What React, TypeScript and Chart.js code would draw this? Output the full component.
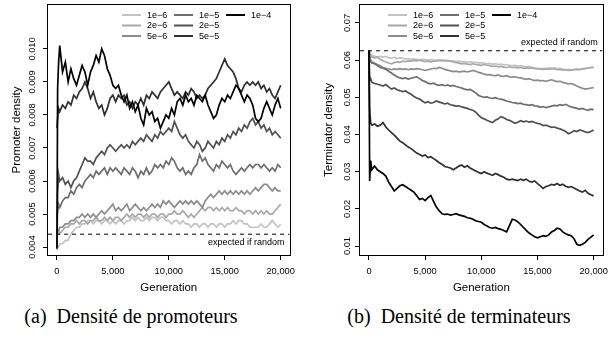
import { useEffect, useRef } from "react";
import { Chart, registerables } from "chart.js";

Chart.register(...registerables);

const GENERATIONS = [0, 60, 150, 250, 500, 750,
  1000, 1250, 1500, 1750, 2000, 2250, 2500, 2750, 3000, 3250, 3500, 3750, 4000, 4250, 4500, 4750,
  5000, 5250, 5500, 5750, 6000, 6250, 6500, 6750, 7000, 7250, 7500, 7750, 8000, 8250, 8500, 8750,
  9000, 9250, 9500, 9750, 10000, 10250, 10500, 10750, 11000, 11250, 11500, 11750, 12000, 12250, 12500, 12750,
  13000, 13250, 13500, 13750, 14000, 14250, 14500, 14750, 15000, 15250, 15500, 15750, 16000, 16250, 16500, 16750,
  17000, 17250, 17500, 17750, 18000, 18250, 18500, 18750, 19000, 19250, 19500, 19750, 20000];

const RATE_LABELS = ["1e−6", "2e−6", "5e−6", "1e−5", "2e−5", "5e−5", "1e−4"];
const RATE_COLORS = ["#c3c3c3", "#a8a8a8", "#8c8c8c", "#6e6e6e", "#505050", "#2f2f2f", "#000000"];

const X_TICKS = [0, 5000, 10000, 15000, 20000];
const PROMOTER_TICKS = [0.004, 0.005, 0.006, 0.007, 0.008, 0.009, 0.01];
const TERMINATOR_TICKS = [0.01, 0.02, 0.03, 0.04, 0.05, 0.06, 0.07];

// Promoter density, in units of 0.001
const PROMOTER_UNIT = 0.001;
const PROMOTER_1E6 = [3.9, 4.0, 4.0, 4.1, 4.1, 4.2,
  4.2, 4.4, 4.5, 4.6, 4.6, 4.7, 4.7, 4.8, 4.8, 4.7, 4.8, 4.8, 4.7, 4.8, 4.8, 4.7,
  4.8, 4.7, 4.8, 4.8, 4.7, 4.8, 4.8, 4.9, 4.8, 4.9, 4.8, 4.8, 4.9, 4.8, 4.9, 4.9,
  4.8, 4.9, 4.9, 4.8, 4.8, 4.7, 4.8, 4.8, 4.7, 4.8, 4.7, 4.7, 4.6, 4.7, 4.7, 4.6,
  4.7, 4.7, 4.6, 4.7, 4.7, 4.6, 4.7, 4.7, 4.6, 4.7, 4.7, 4.8, 4.7, 4.8, 4.8, 4.7,
  4.7, 4.6, 4.6, 4.6, 4.6, 4.7, 4.6, 4.6, 4.7, 4.8, 4.7, 4.6, 4.7];
const PROMOTER_2E6 = [4.3, 4.4, 4.5, 4.4, 4.5, 4.6,
  4.6, 4.7, 4.7, 4.8, 4.7, 4.8, 4.8, 4.7, 4.8, 4.8, 4.9, 4.8, 4.8, 4.9, 4.8, 4.9,
  4.8, 4.9, 4.9, 4.8, 4.9, 5.0, 4.9, 5.0, 4.9, 5.0, 5.0, 4.9, 5.0, 4.9, 5.0, 5.0,
  4.9, 5.0, 5.0, 4.9, 5.0, 5.0, 5.1, 5.0, 5.0, 5.1, 5.0, 4.9, 5.0, 4.9, 5.0, 5.1,
  5.2, 5.1, 5.2, 5.2, 5.1, 5.2, 5.1, 5.2, 5.1, 5.2, 5.1, 5.1, 5.2, 5.1, 5.1, 5.0,
  5.1, 5.1, 5.0, 5.1, 5.0, 5.1, 5.0, 5.1, 5.0, 5.0, 5.1, 5.2, 5.3];
const PROMOTER_5E6 = [4.4, 4.5, 4.5, 4.6, 4.6, 4.7,
  4.7, 4.8, 4.8, 4.9, 4.9, 5.0, 4.9, 5.0, 4.9, 5.0, 4.9, 5.0, 5.1, 5.0, 5.1, 5.2,
  5.3, 5.1, 5.2, 5.1, 5.2, 5.3, 5.1, 5.2, 5.3, 5.2, 5.1, 5.2, 5.1, 5.2, 5.3, 5.2,
  5.3, 5.2, 5.4, 5.3, 5.4, 5.3, 5.2, 5.3, 5.4, 5.3, 5.4, 5.3, 5.4, 5.3, 5.4, 5.3,
  5.2, 5.4, 5.5, 5.6, 5.5, 5.6, 5.7, 5.6, 5.7, 5.6, 5.7, 5.6, 5.7, 5.6, 5.7, 5.6,
  5.7, 5.6, 5.7, 5.8, 5.7, 5.8, 5.9, 5.9, 5.8, 5.7, 5.8, 5.7, 5.7];
const PROMOTER_1E5 = [4.9, 5.1, 5.3, 5.2, 5.4, 5.5,
  5.5, 5.7, 5.6, 5.8, 5.9, 5.8, 6.0, 6.1, 6.2, 6.1, 6.3, 6.2, 6.3, 6.4, 6.2, 6.4,
  6.3, 6.4, 6.3, 6.2, 6.4, 6.3, 6.2, 6.4, 6.3, 6.1, 6.3, 6.2, 6.4, 6.2, 6.3, 6.5,
  6.4, 6.5, 6.4, 6.6, 6.5, 6.7, 6.6, 6.4, 6.3, 6.4, 6.2, 6.3, 6.2, 6.4, 6.5, 6.8,
  6.6, 6.7, 6.5, 6.4, 6.3, 6.5, 6.4, 6.6, 6.5, 6.4, 6.5, 6.3, 6.2, 6.3, 6.4, 6.3,
  6.4, 6.5, 6.4, 6.5, 6.5, 6.4, 6.5, 6.4, 6.3, 6.4, 6.3, 6.5, 6.4];
const PROMOTER_2E5 = [4.0, 5.6, 6.2, 6.0, 6.1, 5.9,
  6.0, 5.8, 6.0, 6.1, 6.3, 6.5, 6.7, 6.6, 6.6, 6.5, 6.7, 6.8, 6.9, 6.8, 7.0, 7.1,
  7.0, 6.9, 7.0, 7.1, 7.0, 7.1, 7.0, 7.2, 7.1, 7.2, 7.3, 7.2, 7.4, 7.3, 7.2, 7.4,
  7.3, 7.5, 7.4, 7.5, 7.6, 7.5, 7.8, 7.6, 7.4, 7.3, 7.4, 7.2, 7.1, 7.0, 7.2, 7.1,
  6.9, 7.0, 7.2, 7.1, 7.0, 7.2, 7.1, 7.3, 7.2, 7.4, 7.3, 7.5, 7.4, 7.6, 7.5, 7.7,
  7.6, 7.8, 7.9, 7.7, 7.8, 7.6, 7.7, 7.5, 7.6, 7.4, 7.5, 7.4, 7.3];
const PROMOTER_5E5 = [7.6, 7.9, 8.2, 8.1, 8.3, 8.2,
  8.4, 8.3, 8.6, 8.5, 8.7, 8.8, 9.0, 8.8, 8.5, 8.7, 8.4, 8.2, 8.3, 8.0, 8.2, 8.5,
  8.6, 8.4, 8.6, 8.5, 8.6, 8.3, 8.4, 8.2, 8.4, 8.3, 8.5, 8.3, 8.6, 8.5, 8.7, 8.6,
  8.5, 8.7, 8.8, 8.9, 9.0, 8.8, 8.6, 8.7, 8.6, 8.5, 8.7, 8.6, 8.8, 8.7, 8.5, 8.6,
  8.5, 8.6, 8.8, 8.9, 9.0, 9.1, 9.3, 9.5, 9.7, 9.5, 9.4, 9.3, 9.1, 8.8, 8.7, 8.9,
  9.0, 8.9, 9.0, 8.9, 9.0, 8.8, 8.9, 8.7, 8.8, 8.6, 8.5, 8.7, 8.9];
const PROMOTER_1E4 = [3.95, 8.8, 9.6, 10.1, 9.3, 9.6,
  9.0, 9.4, 9.1, 8.9, 9.2, 9.5, 9.3, 8.9, 9.3, 9.5, 9.8, 9.6, 10.0, 9.8, 9.4, 9.2,
  8.9, 8.8, 8.9, 8.6, 8.4, 8.6, 8.2, 8.4, 8.1, 8.3, 7.9, 7.7, 8.2, 8.0, 8.1, 7.8,
  7.9, 7.6, 7.8, 8.0, 7.9, 8.2, 8.0, 8.4, 8.5, 8.3, 8.6, 8.4, 8.5, 8.3, 8.6, 8.5,
  8.4, 8.6, 8.3, 8.1, 7.9, 8.0, 8.3, 8.5, 8.4, 8.6, 8.5, 8.7, 8.9, 8.8, 8.6, 8.4,
  8.6, 8.5, 8.3, 7.9, 7.8, 7.9, 8.2, 8.4, 8.2, 8.0, 8.3, 8.5, 8.2];

// Terminator density, in units of 0.01
const TERMINATOR_UNIT = 0.01;
const TERMINATOR_1E6 = [6.25, 6.22, 6.18, 6.12, 6.1, 6.08,
  6.1, 6.08, 6.1, 6.06, 6.05, 6.07, 6.04, 6.06, 6.05, 6.03, 6.04, 6.02, 6.03, 6.02, 6.0, 6.02,
  6.01, 6.0, 6.01, 5.99, 6.0, 5.99, 5.98, 5.99, 5.98, 5.97, 5.98, 5.96, 5.97, 5.95, 5.96, 5.94,
  5.95, 5.93, 5.94, 5.92, 5.93, 5.91, 5.9, 5.91, 5.89, 5.9, 5.88, 5.89, 5.87, 5.88, 5.86, 5.85,
  5.86, 5.84, 5.85, 5.83, 5.82, 5.83, 5.8, 5.79, 5.78, 5.76, 5.78, 5.77, 5.79, 5.78, 5.79, 5.77,
  5.78, 5.76, 5.74, 5.75, 5.74, 5.75, 5.76, 5.75, 5.77, 5.78, 5.79, 5.8, 5.79];
const TERMINATOR_2E6 = [6.25, 6.2, 6.12, 6.08, 6.05, 6.08,
  6.02, 5.98, 5.95, 5.92, 5.9, 5.93, 5.95, 5.94, 5.97, 5.96, 5.98, 5.97, 5.99, 5.98, 6.0, 5.98,
  5.96, 5.97, 5.95, 5.97, 5.98, 5.99, 6.0, 5.98, 5.99, 5.97, 5.95, 5.93, 5.92, 5.9, 5.91, 5.89,
  5.88, 5.9, 5.88, 5.87, 5.86, 5.88, 5.86, 5.85, 5.83, 5.84, 5.82, 5.83, 5.81, 5.8, 5.82, 5.8,
  5.81, 5.79, 5.8, 5.78, 5.79, 5.78, 5.79, 5.77, 5.76, 5.77, 5.75, 5.76, 5.75, 5.77, 5.76, 5.74,
  5.75, 5.73, 5.74, 5.72, 5.73, 5.74, 5.75, 5.74, 5.76, 5.77, 5.78, 5.8, 5.81];
const TERMINATOR_5E6 = [6.25, 6.1, 6.0, 5.95, 5.92, 5.88,
  5.85, 5.8, 5.78, 5.76, 5.74, 5.76, 5.75, 5.77, 5.75, 5.76, 5.74, 5.76, 5.75, 5.77, 5.76, 5.74,
  5.72, 5.74, 5.76, 5.78, 5.77, 5.8, 5.78, 5.75, 5.73, 5.71, 5.69, 5.7, 5.68, 5.69, 5.7, 5.68,
  5.7, 5.72, 5.7, 5.67, 5.65, 5.62, 5.6, 5.61, 5.59, 5.58, 5.6, 5.57, 5.56, 5.58, 5.55, 5.54,
  5.55, 5.53, 5.52, 5.5, 5.48, 5.5, 5.47, 5.45, 5.46, 5.44, 5.45, 5.43, 5.45, 5.47, 5.44, 5.42,
  5.43, 5.4, 5.38, 5.36, 5.37, 5.34, 5.3, 5.27, 5.24, 5.22, 5.23, 5.25, 5.26];
const TERMINATOR_1E5 = [6.25, 6.05, 5.95, 5.92, 5.9, 5.85,
  5.8, 5.78, 5.75, 5.7, 5.65, 5.6, 5.55, 5.52, 5.5, 5.52, 5.49, 5.51, 5.53, 5.55, 5.5, 5.45,
  5.42, 5.38, 5.36, 5.38, 5.34, 5.32, 5.34, 5.31, 5.33, 5.3, 5.32, 5.29, 5.27, 5.25, 5.22, 5.2,
  5.21, 5.17, 5.12, 5.05, 5.02, 5.0, 5.01, 4.98, 4.97, 4.99, 4.96, 4.95, 4.93, 4.9, 4.88, 4.86,
  4.85, 4.83, 4.84, 4.81, 4.8, 4.78, 4.8, 4.77, 4.76, 4.73, 4.75, 4.72, 4.74, 4.76, 4.78, 4.77,
  4.8, 4.78, 4.81, 4.77, 4.74, 4.72, 4.7, 4.68, 4.7, 4.67, 4.65, 4.68, 4.67];
const TERMINATOR_2E5 = [6.25, 5.45, 5.5, 5.4, 5.37, 5.35,
  5.33, 5.3, 5.34, 5.28, 5.22, 5.25, 5.2, 5.18, 5.15, 5.17, 5.12, 5.08, 5.02, 4.98, 4.95, 4.9,
  4.85, 4.88, 4.84, 4.86, 4.9, 4.87, 4.85, 4.82, 4.84, 4.8, 4.78, 4.76, 4.77, 4.74, 4.72, 4.7,
  4.67, 4.65, 4.6, 4.52, 4.45, 4.42, 4.38, 4.35, 4.32, 4.38, 4.42, 4.48, 4.45, 4.4, 4.38, 4.34,
  4.3, 4.33, 4.37, 4.34, 4.36, 4.33, 4.35, 4.32, 4.3, 4.28, 4.24, 4.25, 4.22, 4.19, 4.2, 4.17,
  4.15, 4.12, 4.08, 4.02, 4.05, 4.1, 4.08, 4.12, 4.1, 4.07, 4.05, 4.08, 4.12];
const TERMINATOR_5E5 = [6.25, 4.7, 4.3, 4.25, 4.28, 4.22,
  4.25, 4.32, 4.2, 4.12, 4.05, 3.98, 3.9, 3.82, 3.78, 3.72, 3.66, 3.62, 3.56, 3.5, 3.46, 3.42,
  3.45, 3.38, 3.4, 3.35, 3.3, 3.24, 3.2, 3.14, 3.12, 3.1, 3.05, 3.1, 3.15, 3.18, 3.12, 3.16,
  3.1, 3.06, 3.02, 2.98, 2.95, 3.0, 2.96, 2.93, 2.9, 2.95, 2.92, 2.88, 2.85, 2.8, 2.78, 2.8,
  2.78, 2.76, 2.8, 2.77, 2.8, 2.74, 2.72, 2.75, 2.68, 2.62, 2.55, 2.6, 2.62, 2.66, 2.64, 2.68,
  2.63, 2.66, 2.61, 2.58, 2.6, 2.56, 2.52, 2.48, 2.45, 2.5, 2.42, 2.38, 2.35];
const TERMINATOR_1E4 = [6.25, 2.75, 3.3, 3.05, 3.15, 3.05,
  3.0, 2.95, 2.88, 2.72, 2.6, 2.48, 2.55, 2.62, 2.65, 2.6, 2.55, 2.5, 2.45, 2.35, 2.25, 2.28,
  2.22, 2.3, 2.36, 2.2, 2.05, 1.95, 1.87, 1.85, 1.86, 1.83, 1.85, 1.87, 1.84, 1.82, 1.8, 1.76,
  1.75, 1.72, 1.68, 1.66, 1.64, 1.58, 1.54, 1.5, 1.48, 1.5, 1.47, 1.45, 1.42, 1.38, 1.55, 1.72,
  1.7, 1.65, 1.58, 1.5, 1.42, 1.35, 1.3, 1.25, 1.22, 1.25, 1.28, 1.26, 1.3, 1.38, 1.42, 1.48,
  1.46, 1.38, 1.33, 1.3, 1.28, 1.2, 1.05, 1.02, 1.05, 1.1, 1.18, 1.24, 1.3];

const EXPECTED_PROMOTER = 0.00439;
const EXPECTED_TERMINATOR = 0.0625;

const X_MIN = -800;
const X_MAX = 20800;

const SANS = '"Liberation Sans", Arial, Helvetica, sans-serif';

type PanelProps = {
  left: number;
  width: number;
  series: number[][];
  unit: number;
  yMin: number;
  yMax: number;
  yTicks: number[];
  yDecimals: number;
  yTitle: string;
  expected: number;
  expectedAbove: boolean;
  legendCols: number[];
  legendRows: number[];
};

function formatThousands(v: number): string {
  const s = String(Math.round(v));
  return s.replace(/\B(?=(\d{3})+(?!\d))/g, ",");
}

function Panel(props: PanelProps) {
  const ref = useRef<HTMLCanvasElement | null>(null);
  useEffect(() => {
    const canvas = ref.current;
    if (!canvas) return;
    const { series, unit } = props;
    const datasets: any[] = [];
    datasets.push({
      label: "expected if random",
      data: [{ x: X_MIN, y: props.expected }, { x: X_MAX, y: props.expected }],
      borderColor: "#000",
      borderWidth: 1,
      borderDash: [4, 4],
      pointRadius: 0,
    });
    for (let i = series.length - 1; i >= 0; i--) {
      datasets.push({
        label: RATE_LABELS[i],
        data: GENERATIONS.map((g, j) => ({ x: g, y: series[i][j] * unit })),
        borderColor: RATE_COLORS[i],
        borderWidth: 1.7,
        pointRadius: 0,
        tension: 0,
      });
    }

    const decor = {
      id: "rdecor",
      afterDraw(chart: any) {
        const ctx = chart.ctx;
        const a = chart.chartArea;
        ctx.save();
        // frame
        ctx.strokeStyle = "#000";
        ctx.lineWidth = 1;
        const l = Math.round(a.left) - 0.5;
        const t = Math.round(a.top) - 0.5;
        const r = Math.round(a.right) + 0.5;
        const b = Math.round(a.bottom) + 0.5;
        ctx.strokeRect(l, t, r - l, b - t);
        // legend
        ctx.font = `9px ${SANS}`;
        ctx.textBaseline = "middle";
        ctx.textAlign = "left";
        for (let i = 0; i < RATE_LABELS.length; i++) {
          const col = Math.floor(i / 3);
          const row = i % 3;
          const x = a.left + props.legendCols[col];
          const y = a.top + props.legendRows[row];
          ctx.strokeStyle = RATE_COLORS[i];
          ctx.lineWidth = 2;
          ctx.beginPath();
          ctx.moveTo(x, y);
          ctx.lineTo(x + 19, y);
          ctx.stroke();
          ctx.fillStyle = "#000";
          ctx.fillText(RATE_LABELS[i], x + 25, y + 0.5);
        }
        // expected label
        const ys = chart.scales.y;
        const py = ys.getPixelForValue(props.expected);
        ctx.textAlign = "right";
        ctx.fillStyle = "#000";
        ctx.font = `9px ${SANS}`;
        ctx.fillText("expected if random", a.right - 5, props.expectedAbove ? py - 8 : py + 8.5);
        ctx.restore();
      },
    };

    const tickFont = { family: SANS, size: 9.3 };
    const titleFont = { family: SANS, size: 11.5 };
    const chart = new Chart(canvas, {
      type: "line",
      data: { datasets },
      options: {
        animation: false,
        responsive: false,
        maintainAspectRatio: false,
        layout: { padding: { top: 5, right: 3, left: 0, bottom: 0 } },
        plugins: { legend: { display: false }, tooltip: { enabled: false } },
        scales: {
          x: {
            type: "linear",
            min: X_MIN,
            max: X_MAX,
            afterBuildTicks: (s: any) => { s.ticks = X_TICKS.map((value) => ({ value })); },
            ticks: {
              minRotation: 0,
              maxRotation: 0,
              autoSkip: false,
              padding: 6,
              color: "#000",
              font: tickFont,
              callback: (v: any) => formatThousands(Number(v)),
            },
            grid: { display: true, drawOnChartArea: false, drawTicks: true, tickLength: 5, color: "#000", lineWidth: 1 },
            border: { display: false },
            title: { display: true, text: "Generation", color: "#000", font: titleFont, padding: { top: 0, bottom: 5 } },
            afterFit: (s: any) => { s.height = 45; },
          },
          y: {
            type: "linear",
            min: props.yMin,
            max: props.yMax,
            afterBuildTicks: (s: any) => { s.ticks = props.yTicks.map((value) => ({ value })); },
            ticks: {
              autoSkip: false,
              minRotation: 90,
              maxRotation: 90,
              crossAlign: "center",
              padding: -1,
              color: "#000",
              font: tickFont,
              callback: (v: any) => Number(v).toFixed(props.yDecimals),
            },
            grid: { display: true, drawOnChartArea: false, drawTicks: true, tickLength: 5, color: "#000", lineWidth: 1 },
            border: { display: false },
            title: { display: true, text: props.yTitle, color: "#000", font: titleFont, padding: { top: 10, bottom: 0 } },
            afterFit: (s: any) => { s.width = 48; },
          },
        },
      } as any,
      plugins: [decor],
    });
    return () => chart.destroy();
  }, []);
  return (
    <canvas
      ref={ref}
      width={props.width}
      height={300}
      style={{ position: "absolute", left: props.left, top: 0, width: props.width, height: 300 }}
    />
  );
}

export default function App() {
  const captionStyle: any = {
    position: "absolute",
    top: 305,
    font: '20px "Liberation Serif", "Times New Roman", serif',
    lineHeight: "22px",
    textAlign: "center",
    whiteSpace: "pre",
    color: "#000",
  };
  return (
    <div style={{ position: "fixed", left: 0, top: 0, width: 614, height: 339, background: "#fff", overflow: "hidden" }}>
      <Panel
        left={0}
        width={301}
        series={[PROMOTER_1E6, PROMOTER_2E6, PROMOTER_5E6, PROMOTER_1E5, PROMOTER_2E5, PROMOTER_5E5, PROMOTER_1E4]}
        unit={PROMOTER_UNIT}
        yMin={0.00376}
        yMax={0.01133}
        yTicks={PROMOTER_TICKS}
        yDecimals={3}
        yTitle="Promoter density"
        expected={EXPECTED_PROMOTER}
        expectedAbove={false}
        legendCols={[74, 126, 178]}
        legendRows={[10, 20.5, 31]}
      />
      <Panel
        left={312}
        width={302}
        series={[TERMINATOR_1E6, TERMINATOR_2E6, TERMINATOR_5E6, TERMINATOR_1E5, TERMINATOR_2E5, TERMINATOR_5E5, TERMINATOR_1E4]}
        unit={TERMINATOR_UNIT}
        yMin={0.0076}
        yMax={0.0748}
        yTicks={TERMINATOR_TICKS}
        yDecimals={2}
        yTitle="Terminator density"
        expected={EXPECTED_TERMINATOR}
        expectedAbove={true}
        legendCols={[28, 80, 132]}
        legendRows={[10, 20.5, 31]}
      />
      <div style={{ ...captionStyle, left: 0, width: 262 }}>(a)  Densité de promoteurs</div>
      <div style={{ ...captionStyle, left: 324, width: 270 }}>(b)  Densité de terminateurs</div>
    </div>
  );
}
